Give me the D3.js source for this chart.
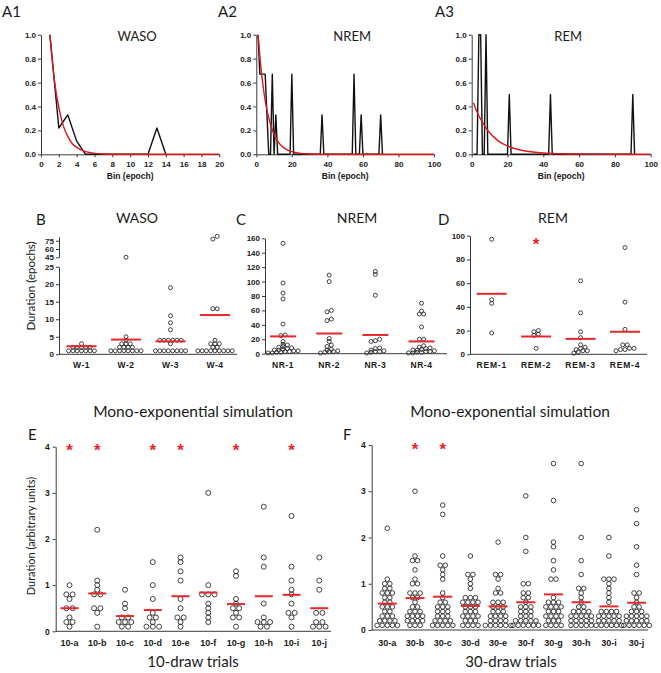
<!DOCTYPE html>
<html><head><meta charset="utf-8">
<script src="https://cdn.jsdelivr.net/npm/d3@7"></script>
<style>body{margin:0;background:#fff}svg{display:block}</style>
</head><body>
<svg id="c" width="661" height="673"></svg>
<script>
// ---------------- DATA ----------------
// Top row: normalised histograms (black) and mono-exponential fits (red)
const A1_BIN  = [1,2,3,4,5,6,7,8,9,10,11,12,13,14];
const A1_FRAC = [1.0,0.22,0.33,0.11,0,0,0,0,0,0,0,0,0.22,0];
const A1_FIT_BIN = [1,1.5,2,2.5,3,3.5,4,5,6,7,8,10,14,20];
const A1_FIT     = [1.0,0.62,0.39,0.24,0.15,0.09,0.058,0.022,0.008,0.003,0.001,0,0,0];

const A2_BIN  = [1,2,5,6,7,8,9,10,11,12,19,20,21,36,37,38,54,55,56,58,59,60,69,70,71];
const A2_FRAC = [1,0.67,0.67,0.33,0,0,0.67,0,0.33,0,0,0.67,0,0,0.33,0,0,0.67,0,0,0.33,0,0,0.33,0];
const A2_FIT_BIN = [1,2,3,4,5,6,8,10,12,14,16,20,25,30,40,60,100];
const A2_FIT     = [1.0,0.82,0.67,0.55,0.45,0.37,0.25,0.165,0.11,0.074,0.05,0.022,0.008,0.003,0.0005,0,0];

const A3_BIN  = [1,3,4,5,6,7,8,9,20,21,22,43,44,45,89,90,91];
const A3_FRAC = [0,0,1,1,0,0,1,0,0,0.5,0,0,0.5,0,0,0.5,0];
const A3_FIT_BIN = [1,2,4,6,8,10,12,15,20,25,30,40,50,60,80,100];
const A3_FIT     = [0.43,0.39,0.32,0.27,0.22,0.18,0.15,0.11,0.07,0.044,0.028,0.011,0.004,0.002,0,0];

const TOP_Y_TICKS = [0,0.2,0.4,0.6,0.8,1.0];
const A1_X_TICKS = [0,2,4,6,8,10,12,14,16,18,20];
const A23_X_TICKS = [0,20,40,60,80,100];

// Middle row: bout durations (epochs)
const W_CATS = ["W-1","W-2","W-3","W-4"];
const W_VALS = [
  [3,2,2,2,2,2,1,1,1,1,1,1,1],
  [45,5,4,3,3,3,2,2,2,2,1,1,1,1,1,1,1,1],
  [19,11,9,7,4,4,4,4,4,4,3,1,1,1,1,1,1,1,1],
  [83,78,13,13,4,3,3,3,2,2,1,1,1,1,1,1,1,1,1]
];
const W_MEAN = [2.3,4.2,3.7,11.2];
const W_LOW_TICKS = [0,5,10,15,20,25];
const W_HIGH_TICKS = [45,60,75];

const NR_CATS = ["NR-1","NR-2","NR-3","NR-4"];
const NR_VALS = [
  [153,98,84,76,41,26,25,17,13,12,10,9,8,7,6,5,5,4,4,3,3,2,2,1,1],
  [109,100,60,58,48,46,21,17,12,10,6,5,4,3,3,2,1],
  [114,110,81,20,18,17,8,7,5,4,3,3,2,1],
  [70,59,55,55,37,20,20,11,9,8,7,6,5,5,4,3,3,2,2,1,1]
];
const NR_MEAN = [24,28,26,17];
const NR_TICKS = [0,20,40,60,80,100,120,140,160];

const REM_CATS = ["REM-1","REM-2","REM-3","REM-4"];
const REM_VALS = [
  [97,46,43,18],
  [20,19,17,16,5],
  [62,35,19,14,8,6,5,4,3,3,2,1],
  [90,44,21,8,8,5,5,4,4,3]
];
const REM_MEAN = [51,15,13,19];
const REM_TICKS = [0,20,40,60,80,100];
const REM_STAR = ["REM-2"];
const REM_STAR_LEVEL = 96;

// Bottom row: mono-exponential simulation
const E_CATS = ["10-a","10-b","10-c","10-d","10-e","10-f","10-g","10-h","10-i","10-j"];
const E_VALS = [
  [1.0,0.8,0.8,0.7,0.5,0.5,0.3,0.2,0.2,0.1],
  [2.2,1.1,1.0,0.9,0.8,0.8,0.5,0.5,0.4,0.1],
  [0.9,0.6,0.5,0.3,0.3,0.2,0.2,0.2,0.1,0.1],
  [1.5,1.0,0.7,0.4,0.3,0.3,0.2,0.1,0.1,0.1],
  [1.6,1.5,1.3,1.1,0.7,0.5,0.3,0.3,0.2,0.1],
  [3.0,1.0,0.8,0.8,0.8,0.6,0.5,0.4,0.3,0.2],
  [1.3,1.2,0.7,0.6,0.5,0.5,0.4,0.3,0.3,0.1],
  [2.7,1.6,1.4,0.6,0.3,0.2,0.2,0.2,0.1,0.1],
  [2.5,1.4,1.1,0.9,0.8,0.6,0.4,0.4,0.3,0.1],
  [1.6,1.1,0.9,0.4,0.4,0.2,0.2,0.1,0.1,0.1]
];
const E_MEAN = [0.50,0.82,0.33,0.46,0.76,0.84,0.59,0.76,0.79,0.50];
const E_STAR = ["10-a","10-b","10-d","10-e","10-g","10-i"];

const F_CATS = ["30-a","30-b","30-c","30-d","30-e","30-f","30-g","30-h","30-i","30-j"];
const F_VALS = [
  [2.2,1.1,1.0,1.0,0.9,0.9,0.8,0.8,0.8,0.7,0.7,0.6,0.6,0.5,0.5,0.5,0.4,0.4,0.3,0.3,0.3,0.2,0.2,0.2,0.2,0.1,0.1,0.1,0.1,0.1],
  [3.0,1.6,1.5,1.5,1.3,1.1,1.0,1.0,0.8,0.8,0.8,0.7,0.7,0.6,0.5,0.5,0.4,0.4,0.4,0.3,0.3,0.3,0.3,0.2,0.2,0.2,0.2,0.1,0.1,0.1],
  [2.7,2.5,1.6,1.4,1.4,1.3,1.2,1.1,0.8,0.7,0.6,0.6,0.5,0.5,0.5,0.4,0.4,0.4,0.3,0.3,0.3,0.2,0.2,0.2,0.2,0.1,0.1,0.1,0.1,0.1],
  [1.6,1.2,1.2,1.1,1.0,0.9,0.7,0.7,0.7,0.6,0.6,0.6,0.6,0.5,0.5,0.5,0.4,0.4,0.4,0.3,0.3,0.3,0.3,0.2,0.2,0.2,0.1,0.1,0.1,0.1],
  [1.9,1.2,1.2,1.1,0.9,0.8,0.8,0.6,0.6,0.6,0.5,0.5,0.5,0.4,0.4,0.4,0.3,0.3,0.3,0.3,0.2,0.2,0.2,0.2,0.1,0.1,0.1,0.1,0.1,0.1],
  [2.9,2.0,1.7,1.0,1.0,0.8,0.8,0.7,0.7,0.6,0.5,0.5,0.5,0.4,0.4,0.4,0.3,0.3,0.3,0.2,0.2,0.2,0.2,0.2,0.1,0.1,0.1,0.1,0.1,0.1],
  [3.6,2.8,1.9,1.8,1.5,1.3,1.1,1.1,0.7,0.6,0.6,0.6,0.5,0.5,0.5,0.5,0.4,0.4,0.4,0.3,0.3,0.3,0.3,0.2,0.2,0.2,0.1,0.1,0.1,0.1],
  [3.6,2.0,1.5,1.2,0.9,0.9,0.8,0.7,0.6,0.5,0.5,0.4,0.4,0.4,0.4,0.3,0.3,0.3,0.3,0.3,0.2,0.2,0.2,0.2,0.2,0.1,0.1,0.1,0.1,0.1],
  [2.0,1.6,1.1,1.1,1.1,1.0,0.9,0.8,0.7,0.6,0.4,0.4,0.4,0.4,0.3,0.3,0.3,0.3,0.3,0.2,0.2,0.2,0.2,0.2,0.1,0.1,0.1,0.1,0.1,0.1],
  [2.6,2.3,1.8,1.4,1.2,0.8,0.8,0.7,0.6,0.5,0.5,0.4,0.4,0.4,0.3,0.3,0.3,0.3,0.3,0.2,0.2,0.2,0.2,0.2,0.1,0.1,0.1,0.1,0.1,0.1]
];
const F_MEAN = [0.57,0.69,0.72,0.52,0.51,0.60,0.77,0.60,0.51,0.59];
const F_STAR = ["30-b","30-c"];
const SIM_TICKS = [0,1,2,3,4];
const SIM_STAR_LEVEL = 4;

// ---------------- DRAWING ----------------
const svg = d3.select("#c");
const RED_FIT = "#d9181e";
const RED = "#e8262c";
const INK = "#1a1a1a";
const AX = "#3a3a3a";
const TICKF = "'Liberation Sans', Arial, sans-serif";
const SANS = "Lato, 'Open Sans', sans-serif";

function txt(x, y, s, size, opts = {}) {
  const t = svg.append("text").attr("x", x).attr("y", y).text(s)
    .attr("font-family", opts.family || SANS).attr("font-size", size)
    .attr("fill", opts.fill || INK).attr("text-anchor", opts.anchor || "start");
  if (opts.weight) t.attr("font-weight", opts.weight);
  if (opts.rotate) t.attr("transform", `rotate(-90,${x},${y})`);
  if (opts.ls) t.attr("letter-spacing", opts.ls);
  return t;
}
function styleAxis(g, fs) {
  g.attr("font-family", TICKF).attr("font-size", fs).attr("font-weight", "bold");
  g.select(".domain").attr("stroke", AX).attr("stroke-width", 1);
  g.selectAll(".tick line").attr("stroke", AX);
  g.selectAll(".tick text").attr("fill", INK);
}
const fmtInt = d3.format("d");

// ---- Top row ----
const TOP_Y0 = 154.3, TOP_Y1 = 34.7;
const topPanels = [
  {label:"A1", lx:2, title:"WASO", x0:41, x1:219.3, xmax:20, xt:A1_X_TICKS, bx:A1_BIN, by:A1_FRAC, fx:A1_FIT_BIN, fy:A1_FIT},
  {label:"A2", lx:218, title:"NREM", x0:256.3, x1:434, xmax:100, xt:A23_X_TICKS, bx:A2_BIN, by:A2_FRAC, fx:A2_FIT_BIN, fy:A2_FIT},
  {label:"A3", lx:435, title:"REM", x0:471.7, x1:650.7, xmax:100, xt:A23_X_TICKS, bx:A3_BIN, by:A3_FRAC, fx:A3_FIT_BIN, fy:A3_FIT}
];
topPanels.forEach(p => {
  const x = d3.scaleLinear().domain([0, p.xmax]).range([p.x0, p.x1]);
  const y = d3.scaleLinear().domain([0, 1]).range([TOP_Y0, TOP_Y1]);
  const gx = svg.append("g").attr("transform", `translate(0,${TOP_Y0})`)
    .call(d3.axisBottom(x).tickValues(p.xt).tickSize(3).tickSizeOuter(0).tickPadding(4).tickFormat(fmtInt));
  styleAxis(gx, 8);
  const gy = svg.append("g").attr("transform", `translate(${p.x0},0)`)
    .call(d3.axisLeft(y).tickValues(TOP_Y_TICKS).tickSize(3).tickSizeOuter(0).tickPadding(2).tickFormat(d3.format(".1f")));
  styleAxis(gy, 8);
  const line = d3.line().x(d => x(d[0])).y(d => y(d[1]));
  svg.append("path").datum(d3.zip(p.bx, p.by)).attr("d", line)
    .attr("fill", "none").attr("stroke", "#111").attr("stroke-width", 1.4).attr("stroke-linejoin", "round");
  svg.append("path").datum(d3.zip(p.fx, p.fy)).attr("d", line.curve(d3.curveMonotoneX))
    .attr("fill", "none").attr("stroke", RED_FIT).attr("stroke-width", 1.4);
  txt((p.x0 + p.x1) / 2 + 7, 41, p.title, 13, {anchor:"middle"});
  txt(p.lx, 17, p.label, 15);
  txt((p.x0 + p.x1) / 2, 178.5, "Bin (epoch)", 8.5, {anchor:"middle", family:TICKF, weight:"bold"});
});

// ---- swarm layout (deterministic, Prism-like rows) ----
function swarm(values, yf, cx, d, binH) {
  const pts = values.map(v => ({v, py: yf(v)})).sort((a, b) => b.py - a.py);
  const groups = []; let cur = null;
  pts.forEach(p => {
    if (!cur || cur.start - p.py >= binH) { cur = {start: p.py, items: []}; groups.push(cur); }
    cur.items.push(p);
  });
  groups.forEach(g => {
    const n = g.items.length;
    g.items.forEach((p, k) => { p.px = cx + (k - (n - 1) / 2) * d; });
  });
  return pts;
}

function dotPanel(o) {
  const g = svg.append("g");
  g.append("line").attr("x1", o.ax0).attr("x2", o.ax1).attr("y1", o.y0).attr("y2", o.y0)
    .attr("stroke", AX).attr("stroke-width", 1);
  o.cats.forEach((c, i) => {
    const cx = o.x(c);
    const pts = swarm(o.vals[i], o.y, cx, o.d, o.binH);
    g.selectAll(null).data(pts).join("circle")
      .attr("cx", p => p.px).attr("cy", p => p.py).attr("r", o.r)
      .attr("fill", "none").attr("stroke", "#222").attr("stroke-width", 0.85);
    g.append("line").attr("x1", cx - o.mw / 2).attr("x2", cx + o.mw / 2)
      .attr("y1", o.y(o.means[i])).attr("y2", o.y(o.means[i]))
      .attr("stroke", RED).attr("stroke-width", 2);
    txt(cx, o.ly, c, o.lfs, {anchor:"middle", family:TICKF, weight:"bold", ls:o.ls || 0});
  });
  if (o.stars) {
    o.stars.forEach(c => {
      txt(o.x(c), o.y(o.starLevel) + 0.575 * 17, "*", 17, {anchor:"middle", family:TICKF, fill:RED, weight:"bold"});
    });
  }
}

// ---- B: WASO (broken axis) ----
{
  const yLow = d3.scaleLinear().domain([0, 25]).range([354.3, 266.7]);
  const yHigh = d3.scaleLinear().domain([45, 82]).range([257.3, 236.9]);
  const yB = v => v <= 25 ? yLow(v) : yHigh(v);
  const g1 = svg.append("g").attr("transform", "translate(59,0)")
    .call(d3.axisLeft(yLow).tickValues(W_LOW_TICKS).tickSize(3).tickSizeOuter(0).tickPadding(2).tickFormat(fmtInt));
  styleAxis(g1, 8);
  const g2 = svg.append("g").attr("transform", "translate(59,0)")
    .call(d3.axisLeft(yHigh).tickValues(W_HIGH_TICKS).tickSize(3).tickSizeOuter(0).tickPadding(2).tickFormat(fmtInt));
  styleAxis(g2, 8);
  const x = d3.scalePoint().domain(W_CATS).range([81.5, 215]);
  dotPanel({cats:W_CATS, vals:W_VALS, means:W_MEAN, x, y:yB, y0:354.3, ax0:59, ax1:237,
    r:2.0, d:4.3, binH:3, mw:30, ly:368, lfs:8.5, ls:0.5});
  txt(137, 223, "WASO", 14, {anchor:"middle"});
  txt(36, 225, "B", 15);
  txt(35, 286, "Duration (epochs)", 11.5, {anchor:"middle", rotate:true});
}
// ---- C: NREM ----
{
  const y = d3.scaleLinear().domain([0, 160]).range([353.7, 238.3]);
  const g1 = svg.append("g").attr("transform", "translate(265,0)")
    .call(d3.axisLeft(y).tickValues(NR_TICKS).tickSize(3).tickSizeOuter(0).tickPadding(2).tickFormat(fmtInt));
  styleAxis(g1, 8);
  const x = d3.scalePoint().domain(NR_CATS).range([283, 421.5]);
  dotPanel({cats:NR_CATS, vals:NR_VALS, means:NR_MEAN, x, y, y0:353.7, ax0:265, ax1:447,
    r:2.0, d:4.3, binH:2.5, mw:26, ly:368, lfs:8.5, ls:0.5});
  txt(357, 223, "NREM", 14, {anchor:"middle"});
  txt(236, 225, "C", 15);
}
// ---- D: REM ----
{
  const y = d3.scaleLinear().domain([0, 100]).range([354.3, 235.7]);
  const g1 = svg.append("g").attr("transform", "translate(470,0)")
    .call(d3.axisLeft(y).tickValues(REM_TICKS).tickSize(3).tickSizeOuter(0).tickPadding(2).tickFormat(fmtInt));
  styleAxis(g1, 8);
  const x = d3.scalePoint().domain(REM_CATS).range([491.7, 625]);
  dotPanel({cats:REM_CATS, vals:REM_VALS, means:REM_MEAN, x, y, y0:354.3, ax0:470, ax1:647,
    r:2.0, d:4.5, binH:2.5, mw:30, ly:368, lfs:8.5, ls:0.8, stars:REM_STAR, starLevel:REM_STAR_LEVEL});
  txt(553, 223, "REM", 14, {anchor:"middle"});
  txt(438, 225, "D", 15);
}
// ---- E: 10-draw ----
{
  const y = d3.scaleLinear().domain([0, 4]).range([631.3, 446.7]);
  const g1 = svg.append("g").attr("transform", "translate(55.7,0)")
    .call(d3.axisLeft(y).tickValues(SIM_TICKS).tickSize(3).tickSizeOuter(0).tickPadding(3).tickFormat(fmtInt));
  styleAxis(g1, 8.5);
  const x = d3.scalePoint().domain(E_CATS).range([69.5, 319.3]);
  dotPanel({cats:E_CATS, vals:E_VALS, means:E_MEAN, x, y, y0:631.3, ax0:55.7, ax1:331,
    r:2.5, d:6.3, binH:4, mw:18, ly:646, lfs:9, stars:E_STAR, starLevel:SIM_STAR_LEVEL});
  txt(193, 416.5, "Mono-exponential simulation", 15.5, {anchor:"middle"});
  txt(193, 667, "10-draw trials", 15, {anchor:"middle"});
  txt(28, 440, "E", 15);
  txt(35, 536, "Duration (arbitrary units)", 11, {anchor:"middle", rotate:true});
}
// ---- F: 30-draw ----
{
  const y = d3.scaleLinear().domain([0, 4]).range([630, 445]);
  const g1 = svg.append("g").attr("transform", "translate(371.7,0)")
    .call(d3.axisLeft(y).tickValues(SIM_TICKS).tickSize(3).tickSizeOuter(0).tickPadding(3).tickFormat(fmtInt));
  styleAxis(g1, 8.5);
  const x = d3.scalePoint().domain(F_CATS).range([387.3, 636.6]);
  dotPanel({cats:F_CATS, vals:F_VALS, means:F_MEAN, x, y, y0:630, ax0:371.7, ax1:648,
    r:2.3, d:5.1, binH:4, mw:19, ly:646, lfs:9, stars:F_STAR, starLevel:SIM_STAR_LEVEL});
  txt(510, 416.5, "Mono-exponential simulation", 15.5, {anchor:"middle"});
  txt(511, 667, "30-draw trials", 15, {anchor:"middle"});
  txt(343, 440, "F", 15);
}
</script>
</body></html>
